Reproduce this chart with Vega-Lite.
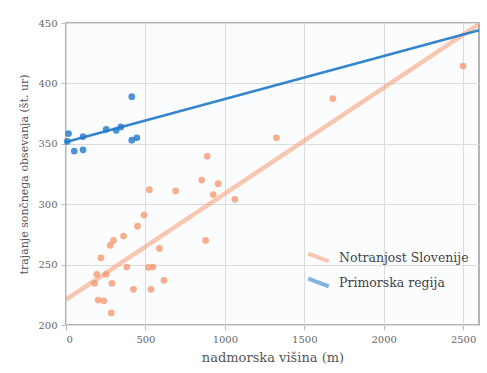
{
  "$schema": "https://vega.github.io/schema/vega-lite/v6.json",
  "width": 413,
  "height": 302,
  "autosize": "none",
  "padding": {"left": 66, "top": 23, "right": 8, "bottom": 48},
  "background": "white",
  "config": {
    "font": "DejaVu Serif",
    "view": {"stroke": "#9a9a9a", "strokeWidth": 1.5, "fill": "#fbfcfe"},
    "axis": {
      "labelFont": "DejaVu Serif", "titleFont": "DejaVu Serif",
      "labelColor": "#666", "titleColor": "#555", "gridColor": "#dcdcdc",
      "domain": false, "tickColor": "#bbb", "labelFontSize": 10, "titleFontWeight": "normal"
    },
    "legend": {"labelFont": "DejaVu Serif", "labelColor": "#444", "labelFontSize": 12.5}
  },
  "data": {
    "values": [
      {"x": 0, "y": 351.5, "group": "Primorska regija", "kind": "fit"},
      {"x": 2600, "y": 444, "group": "Primorska regija", "kind": "fit"},
      {"x": 0, "y": 221, "group": "Notranjost Slovenije", "kind": "fit"},
      {"x": 2600, "y": 449, "group": "Notranjost Slovenije", "kind": "fit"},
      {"x": 16, "y": 358.5, "group": "Primorska regija", "kind": "point"},
      {"x": 8, "y": 352, "group": "Primorska regija", "kind": "point"},
      {"x": 52, "y": 344, "group": "Primorska regija", "kind": "point"},
      {"x": 107, "y": 345, "group": "Primorska regija", "kind": "point"},
      {"x": 107, "y": 356, "group": "Primorska regija", "kind": "point"},
      {"x": 253, "y": 362, "group": "Primorska regija", "kind": "point"},
      {"x": 316, "y": 361, "group": "Primorska regija", "kind": "point"},
      {"x": 345, "y": 364, "group": "Primorska regija", "kind": "point"},
      {"x": 414, "y": 389, "group": "Primorska regija", "kind": "point"},
      {"x": 414, "y": 353, "group": "Primorska regija", "kind": "point"},
      {"x": 446, "y": 355, "group": "Primorska regija", "kind": "point"},
      {"x": 220, "y": 255.6, "group": "Notranjost Slovenije", "kind": "point"},
      {"x": 194, "y": 242, "group": "Notranjost Slovenije", "kind": "point"},
      {"x": 253, "y": 242, "group": "Notranjost Slovenije", "kind": "point"},
      {"x": 180, "y": 234.5, "group": "Notranjost Slovenije", "kind": "point"},
      {"x": 202, "y": 220.6, "group": "Notranjost Slovenije", "kind": "point"},
      {"x": 238, "y": 220, "group": "Notranjost Slovenije", "kind": "point"},
      {"x": 285, "y": 210, "group": "Notranjost Slovenije", "kind": "point"},
      {"x": 289, "y": 234.5, "group": "Notranjost Slovenije", "kind": "point"},
      {"x": 278, "y": 266, "group": "Notranjost Slovenije", "kind": "point"},
      {"x": 299, "y": 270, "group": "Notranjost Slovenije", "kind": "point"},
      {"x": 362, "y": 273.6, "group": "Notranjost Slovenije", "kind": "point"},
      {"x": 383, "y": 248, "group": "Notranjost Slovenije", "kind": "point"},
      {"x": 425, "y": 229.5, "group": "Notranjost Slovenije", "kind": "point"},
      {"x": 450, "y": 281.8, "group": "Notranjost Slovenije", "kind": "point"},
      {"x": 491, "y": 291, "group": "Notranjost Slovenije", "kind": "point"},
      {"x": 525, "y": 312, "group": "Notranjost Slovenije", "kind": "point"},
      {"x": 519, "y": 247.7, "group": "Notranjost Slovenije", "kind": "point"},
      {"x": 547, "y": 248, "group": "Notranjost Slovenije", "kind": "point"},
      {"x": 535, "y": 229.5, "group": "Notranjost Slovenije", "kind": "point"},
      {"x": 588, "y": 263.4, "group": "Notranjost Slovenije", "kind": "point"},
      {"x": 617, "y": 237, "group": "Notranjost Slovenije", "kind": "point"},
      {"x": 690, "y": 311, "group": "Notranjost Slovenije", "kind": "point"},
      {"x": 854, "y": 320, "group": "Notranjost Slovenije", "kind": "point"},
      {"x": 889, "y": 339.7, "group": "Notranjost Slovenije", "kind": "point"},
      {"x": 879, "y": 270, "group": "Notranjost Slovenije", "kind": "point"},
      {"x": 958, "y": 317, "group": "Notranjost Slovenije", "kind": "point"},
      {"x": 927, "y": 308, "group": "Notranjost Slovenije", "kind": "point"},
      {"x": 1063, "y": 304, "group": "Notranjost Slovenije", "kind": "point"},
      {"x": 1325, "y": 355, "group": "Notranjost Slovenije", "kind": "point"},
      {"x": 1680, "y": 387.5, "group": "Notranjost Slovenije", "kind": "point"},
      {"x": 2500, "y": 414.4, "group": "Notranjost Slovenije", "kind": "point"}
    ]
  },
  "encoding": {
    "x": {"field": "x", "type": "quantitative", "title": "nadmorska višina (m)",
      "scale": {"domain": [0, 2600], "nice": false},
      "axis": {"values": [0, 500, 1000, 1500, 2000, 2500], "format": "d", "titleFontSize": 13, "titlePadding": 7, "labelPadding": 4}},
    "y": {"field": "y", "type": "quantitative", "title": "trajanje sončnega obsevanja (št. ur)",
      "scale": {"domain": [200, 450], "nice": false},
      "axis": {"values": [200, 250, 300, 350, 400, 450], "format": "d", "titleFontSize": 11, "titlePadding": 8, "labelPadding": 4}},
    "color": {"field": "group", "type": "nominal",
      "scale": {"domain": ["Notranjost Slovenije", "Primorska regija"], "range": ["#f59a72", "#1f78c8"]},
      "legend": {"title": null, "orient": "none", "legendX": 240, "legendY": 222,
        "symbolType": "M-1,-0.38L1,0.38", "symbolSize": 420, "symbolStrokeWidth": 4, "labelOffset": 8, "rowPadding": 0}}
  },
  "layer": [
    {
      "transform": [{"filter": "datum.kind == 'fit' && datum.group == 'Notranjost Slovenije'"}],
      "mark": {"type": "line", "strokeWidth": 4.5, "opacity": 0.55}
    },
    {
      "transform": [{"filter": "datum.kind == 'fit' && datum.group == 'Primorska regija'"}],
      "mark": {"type": "line", "strokeWidth": 2.5, "opacity": 0.9}
    },
    {
      "transform": [{"filter": "datum.kind == 'point'"}],
      "mark": {"type": "circle", "size": 45, "opacity": 0.8}
    }
  ]
}
